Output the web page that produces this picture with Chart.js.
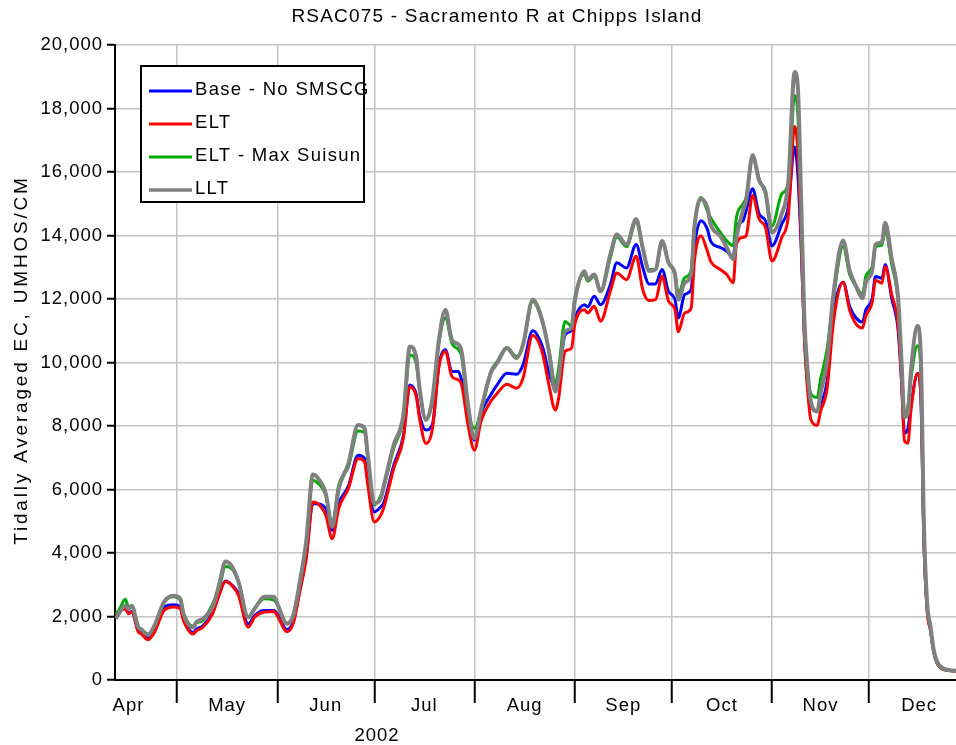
<!DOCTYPE html>
<html><head><meta charset="utf-8">
<script src="https://cdn.jsdelivr.net/npm/chart.js@4.4.1/dist/chart.umd.min.js"></script>
<style>html,body{margin:0;padding:0;background:#fff}#wrap{width:956px;height:745px;position:relative}</style>
</head><body><div id="wrap"><canvas id="c" width="956" height="745"></canvas></div>
<script>
const chartTitle = "RSAC075 - Sacramento R at Chipps Island";
const yAxisTitle = "Tidally Averaged EC, UMHOS/CM";
const yearLabel = "2002";
const monthLabels = ["Apr","May","Jun","Jul","Aug","Sep","Oct","Nov","Dec"];
const seriesNames = ["Base - No SMSCG","ELT","ELT - Max Suisun","LLT"];
const yTicks = [0,2000,4000,6000,8000,10000,12000,14000,16000,18000,20000];

const dates = ["04-12","04-13","04-15","04-16","04-17","04-19","04-20","04-22","04-24","04-27","04-30",
"05-02","05-03","05-06","05-07","05-09","05-12","05-14","05-16","05-18","05-20","05-23","05-25","05-28","05-31",
"06-01","06-04","06-06","06-08","06-10","06-12","06-13","06-16","06-18","06-20","06-23","06-26","06-28","06-29",
"07-01","07-03","07-04","07-07","07-10","07-12","07-14","07-15","07-17","07-19","07-21","07-23","07-25","07-27","07-28","07-30",
"08-01","08-03","08-06","08-08","08-11","08-14","08-16","08-19","08-22","08-24","08-26","08-27","08-29","08-31",
"09-01","09-04","09-05","09-07","09-09","09-12","09-14","09-17","09-20","09-22","09-24","09-26","09-28","09-30",
"10-02","10-03","10-05","10-07","10-08","10-10","10-12","10-13","10-16","10-18","10-20","10-21","10-23","10-24","10-26","10-28","10-30",
"11-01","11-04","11-06","11-08","11-09","11-10","11-11","11-12","11-13","11-15","11-16","11-18","11-20","11-23","11-25","11-27","11-29","11-30",
"12-02","12-03","12-05","12-06","12-08","12-10","12-11","12-12","12-13","12-14","12-16","12-17","12-18","12-19","12-20","12-21","12-22","12-24","12-28"];

const baseNoSMSCG = [2060,2150,2270,2100,2160,1550,1480,1310,1530,2300,2370,
2300,1930,1500,1600,1710,2140,2700,3120,2990,2720,1770,2030,2190,2190,
2080,1590,1850,2850,3950,5550,5550,5400,4715,5560,6110,7080,6980,6300,
5295,5450,5600,6760,7700,9295,8990,8350,7875,8050,9925,10400,9715,9715,9450,8450,
7550,8400,8980,9295,9660,9630,9925,11000,10500,9700,9200,9500,10870,11000,
11400,11820,11750,12085,11820,12450,13140,12980,13720,13000,12475,12475,12930,12240,
11980,11400,12140,12300,13620,14465,14200,13830,13620,13510,13300,14250,14465,14780,15470,14680,14465,
13670,14360,14890,16790,15900,13700,10900,9300,8650,8460,8650,9400,11525,12525,11775,11400,11275,11650,
12025,12710,12650,13090,12025,11025,9525,7775,7900,8650,9650,9000,4300,2200,1600,900,550,340,280];

const elt = [2050,2140,2245,2085,2140,1520,1450,1270,1500,2190,2300,
2245,1870,1450,1550,1660,2085,2670,3100,2970,2670,1660,1980,2140,2160,
2030,1520,1800,2800,3850,5610,5590,5190,4450,5400,6030,6980,6870,6140,
4980,5190,5450,6660,7610,9240,8925,8240,7450,7925,9870,10350,9560,9450,9300,8030,
7240,8150,8770,9030,9315,9190,9505,10850,10300,9295,8505,8870,10350,10450,
11190,11660,11560,11770,11300,12240,12820,12610,13350,12300,11950,11980,12720,11930,
11660,10970,11560,11715,13195,13990,13510,13195,12930,12770,12510,13720,13940,13990,15260,14520,14250,
13195,13940,14570,17430,16650,13900,10775,9150,8210,8025,8460,9150,11275,12525,11650,11210,11090,11460,
11900,12590,12500,13025,12150,11150,9525,7525,7460,8525,9650,9025,4300,2150,1550,880,540,330,275];

const eltMaxSuisun = [2085,2190,2540,2300,2350,1690,1600,1450,1690,2460,2620,
2510,2100,1690,1800,1870,2400,2880,3575,3500,3100,1980,2260,2560,2510,
2400,1790,2050,3050,4300,6290,6250,5820,4870,6130,6710,7840,7790,7000,
5510,5800,6090,7300,8250,10240,9950,9150,8190,8800,10610,11400,10610,10400,10200,8550,
7930,8450,9710,10030,10470,10190,10560,11925,11300,10400,9350,9800,11295,11150,
12030,12770,12560,12720,12240,13300,13950,13650,14450,13600,12930,12930,13830,13140,
12800,12140,12670,12880,14300,15200,14780,14570,14100,13830,13680,14570,14990,15200,16480,15790,15300,
14300,15310,15630,18400,17800,14700,11200,9525,9025,8900,9460,10400,12025,13650,12775,12400,12150,12710,
13025,13650,13700,14150,13100,11900,10000,8275,8600,9525,10525,9900,4600,2300,1650,930,560,345,285];

const llt = [1930,2085,2350,2245,2330,1660,1585,1415,1710,2460,2650,
2560,2085,1660,1820,1930,2300,2990,3730,3575,3100,1980,2245,2620,2620,
2400,1770,2050,3100,4400,6470,6430,5875,4820,6030,6820,8030,7925,7080,
5560,5715,6140,7400,8350,10505,10135,9190,8190,8875,10715,11660,10715,10570,10350,8660,
7610,8500,9660,9980,10450,10135,10560,11980,11300,10350,9085,9505,10980,11085,
11925,12875,12610,12770,12240,13400,14030,13715,14520,13620,12880,12930,13830,13140,
12770,11980,12510,12770,14250,15150,14890,14360,13990,13620,13250,13940,14780,15100,16530,15735,15365,
14095,14680,15630,19150,18650,15150,11400,9775,8775,8460,9025,10025,12150,13840,12900,12400,12025,12525,
12900,13710,13800,14400,13275,12025,10150,8275,8400,9775,11150,10275,4800,2400,1700,950,600,360,290];

const seriesColors = ["#0000ff","#ff0000","#00aa00","#808080"];

// day number counted from 2002-04-01
const ORIGIN = Date.UTC(2002,3,1);
function dayNum(y, m, d){ return (Date.UTC(y, m-1, d) - ORIGIN)/864e5; }
function dateDay(s){ const [m,d] = s.split("-").map(Number); return dayNum(2002, m, d); }
const xs = dates.map(dateDay);
const monthStarts = [4,5,6,7,8,9,10,11,12,13].map(m => m <= 12 ? dayNum(2002, m, 1) : dayNum(2003, 1, 1));

const FONT = '18.5px "Liberation Sans", Arial, sans-serif';
const LS = '1px';

function mk(i, vals, order, width){
  return {label: seriesNames[i], data: vals.map((v,k)=>({x: xs[k], y: v})),
    borderColor: seriesColors[i], backgroundColor: seriesColors[i], borderWidth: width,
    pointRadius: 0, cubicInterpolationMode: 'monotone', order: order, fill: false};
}

const textPlugin = {
  id: 'texts',
  afterDraw(chart){
    const ctx = chart.ctx;
    const xsScale = chart.scales.x, ys = chart.scales.y;
    ctx.save();
    ctx.fillStyle = '#000';
    ctx.font = '19px "Liberation Sans", Arial, sans-serif';
    ctx.letterSpacing = '1.2px';
    ctx.textAlign = 'center'; ctx.textBaseline = 'middle';
    ctx.fillText(chartTitle, 497, 17);
    ctx.font = FONT; ctx.letterSpacing = LS;
    // y ticks
    ctx.textAlign = 'right';
    ys.ticks.forEach(t => {
      ctx.fillText(t.value.toLocaleString('en-US'), 103, ys.getPixelForValue(t.value));
    });
    // month labels
    ctx.textAlign = 'center'; ctx.textBaseline = 'alphabetic';
    for (let i = 0; i < monthLabels.length; i++){
      const mid = (monthStarts[i] + monthStarts[i+1]) / 2;
      ctx.fillText(monthLabels[i], xsScale.getPixelForValue(mid), 711);
    }
    ctx.fillText(yearLabel, 377, 741);
    // y title
    ctx.save();
    ctx.translate(22, 360);
    ctx.rotate(-Math.PI/2);
    ctx.textBaseline = 'middle';
    ctx.font = '19px "Liberation Sans", Arial, sans-serif';
    ctx.letterSpacing = '2.8px';
    ctx.fillText(yAxisTitle, 0, 0);
    ctx.restore();
    // legend
    ctx.letterSpacing = '1.3px';
    ctx.fillStyle = '#fff';
    ctx.fillRect(141, 66, 223, 136);
    ctx.lineWidth = 2; ctx.strokeStyle = '#000';
    ctx.strokeRect(141, 66, 223, 136);
    const rows = [91, 124, 157, 190];
    for (let i = 0; i < 4; i++){
      ctx.strokeStyle = seriesColors[i];
      ctx.lineWidth = i === 3 ? 3.5 : 3;
      ctx.beginPath(); ctx.moveTo(149, rows[i]); ctx.lineTo(192, rows[i]); ctx.stroke();
      ctx.fillStyle = '#000';
      ctx.textAlign = 'left'; ctx.textBaseline = 'middle';
      ctx.fillText(seriesNames[i], 195, rows[i] - 1);
    }
    ctx.restore();
  }
};

new Chart(document.getElementById('c'), {
  type: 'line',
  data: { datasets: [
    mk(3, llt, 0, 4),
    mk(2, eltMaxSuisun, 1, 3),
    mk(1, elt, 2, 3),
    mk(0, baseNoSMSCG, 3, 3)
  ]},
  options: {
    responsive: false, animation: false, devicePixelRatio: 1,
    layout: { padding: { left: 0, right: 0, top: 45, bottom: 0 } },
    plugins: { legend: { display: false }, title: { display: false }, tooltip: { enabled: false } },
    scales: {
      x: {
        type: 'linear', min: 10.82, max: 270.9,
        afterBuildTicks: s => { s.ticks = monthStarts.slice(1, 9).map(v => ({value: v})); },
        afterFit: s => { s.height = 65; },
        ticks: { display: false },
        grid: { color: '#c4c4c4', lineWidth: 1.5, tickColor: '#000', tickWidth: 2, tickLength: 23 },
        border: { color: '#000', width: 2 }
      },
      y: {
        min: 0, max: 20000,
        afterBuildTicks: s => { s.ticks = yTicks.map(v => ({value: v})); },
        afterFit: s => { s.width = 115; },
        ticks: { display: false },
        grid: { color: '#c4c4c4', lineWidth: 1.5, tickColor: '#000', tickWidth: 2, tickLength: 8 },
        border: { color: '#000', width: 2 }
      }
    }
  },
  plugins: [textPlugin]
});
</script></body></html>
